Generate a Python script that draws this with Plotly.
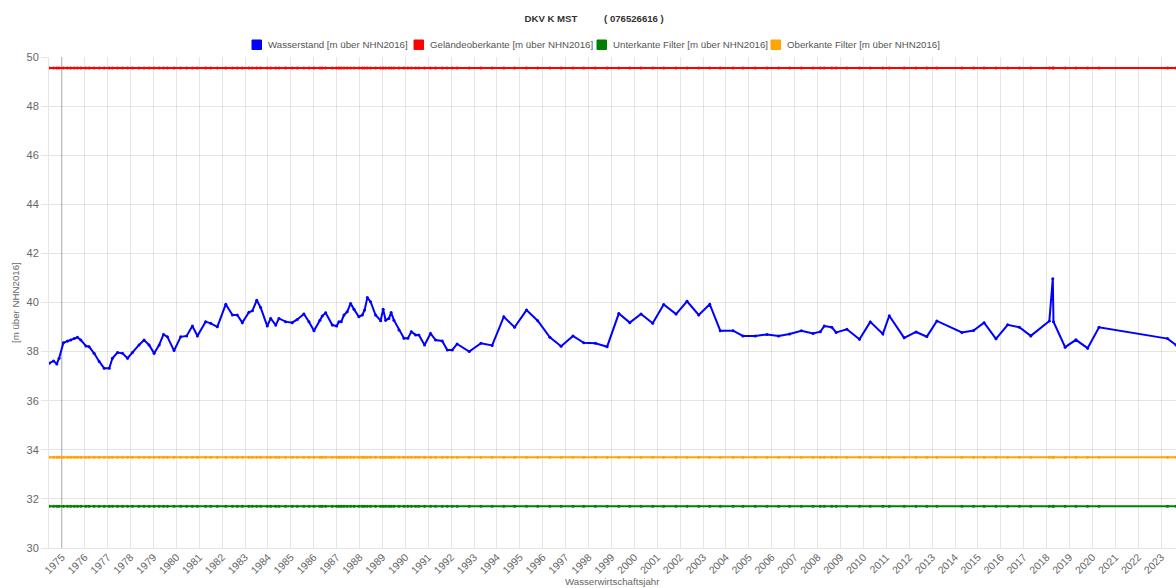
import plotly.graph_objects as go

# ---------------- data ----------------
title_text = "DKV K MST" + "\u00a0" * 10 + "( 076526616 )"
series_names = [
    "Wasserstand [m über NHN2016]",
    "Geländeoberkante [m über NHN2016]",
    "Unterkante Filter [m über NHN2016]",
    "Oberkante Filter [m über NHN2016]",
]
series_colors = ["#0000FF", "#FF0000", "#008000", "#FFA500"]

# measurement dates as decimal years
dates = [
    1974.45, 1974.64, 1974.78, 1974.88, 1975.07, 1975.25, 1975.39, 1975.54, 1975.68, 1975.83,
    1976.05, 1976.19, 1976.41, 1976.63, 1976.85, 1977.07, 1977.21, 1977.43, 1977.65, 1977.87,
    1978.08, 1978.37, 1978.59, 1978.81, 1979.03, 1979.25, 1979.44, 1979.61, 1979.90, 1980.19,
    1980.45, 1980.70, 1980.92, 1981.28, 1981.50, 1981.79, 1982.16, 1982.45, 1982.66, 1982.88,
    1983.17, 1983.32, 1983.51, 1983.68, 1983.97, 1984.12, 1984.34, 1984.48, 1984.77, 1985.06,
    1985.28, 1985.57, 1985.79, 1986.01, 1986.27,
    1986.37, 1986.52, 1986.81, 1987.00, 1987.10, 1987.20, 1987.32, 1987.46, 1987.61, 1987.76,
    1987.97, 1988.12, 1988.22, 1988.34, 1988.48, 1988.70, 1988.92, 1989.03, 1989.14, 1989.28,
    1989.38, 1989.50, 1989.72, 1989.94, 1990.11, 1990.26, 1990.45, 1990.59, 1990.84, 1991.10,
    1991.32, 1991.61, 1991.83, 1992.05, 1992.26,
    1992.79, 1993.30, 1993.79, 1994.30, 1994.77, 1995.29, 1995.78, 1996.31, 1996.80, 1997.32,
    1997.79, 1998.30, 1998.81, 1999.32, 1999.80, 2000.29, 2000.80, 2001.28, 2001.82, 2002.30,
    2002.81, 2003.29, 2003.75, 2004.31, 2004.74, 2005.28, 2005.79, 2006.30, 2006.78, 2007.29,
    2007.80, 2008.12, 2008.29, 2008.62, 2008.81, 2009.28, 2009.83, 2010.30, 2010.85, 2011.13,
    2011.78, 2012.30, 2012.77, 2013.21, 2014.30, 2014.81, 2015.27, 2015.79, 2016.30, 2016.81,
    2017.31, 2018.12, 2018.27, 2018.30, 2018.81, 2019.28, 2019.79, 2020.29, 2023.28, 2023.65,
]

wasserstand = [
    37.53, 37.62, 37.50, 37.73, 38.36, 38.43, 38.47, 38.53, 38.58, 38.47,
    38.23, 38.20, 37.93, 37.60, 37.32, 37.32, 37.73, 37.96, 37.93, 37.73,
    37.96, 38.27, 38.47, 38.27, 37.93, 38.27, 38.70, 38.60, 38.04, 38.60,
    38.64, 39.04, 38.64, 39.22, 39.15, 39.01, 39.93, 39.49, 39.49, 39.18,
    39.60, 39.66, 40.09, 39.80, 39.04, 39.35, 39.08, 39.35, 39.22, 39.18,
    39.31, 39.53, 39.22, 38.85, 39.28,
    39.45, 39.58, 39.08, 39.04, 39.22, 39.22, 39.49, 39.62, 39.96, 39.72,
    39.42, 39.49, 39.69, 40.20, 40.03, 39.49, 39.26, 39.72, 39.28, 39.35,
    39.59, 39.28, 38.88, 38.54, 38.54, 38.81, 38.68, 38.68, 38.27, 38.74,
    38.47, 38.43, 38.07, 38.07, 38.31,
    38.00, 38.34, 38.25, 39.42, 38.99, 39.69, 39.26, 38.58, 38.22, 38.64,
    38.36, 38.34, 38.20, 39.55, 39.18, 39.53, 39.15, 39.92, 39.53, 40.05,
    39.49, 39.93, 38.85, 38.85, 38.64, 38.64, 38.70, 38.64, 38.72, 38.85,
    38.74, 38.81, 39.04, 38.99, 38.78, 38.91, 38.50, 39.21, 38.72, 39.46,
    38.56, 38.80, 38.61, 39.25, 38.78, 38.86, 39.18, 38.52, 39.09, 38.99,
    38.64, 39.25, 40.97, 39.22, 38.18, 38.48, 38.14, 38.99, 38.53, 38.27,
]

gelaendeoberkante_value = 49.55
unterkante_value = 31.70
oberkante_value = 33.70

year_ticks = list(range(1975, 2024))
year_labels = [str(y) for y in year_ticks]
y_ticks = list(range(30, 51, 2))

# --------------- figure ---------------
W, H = 1176, 588
ML, MR, MT, MB = 49, 0, 57, 40
PW, PH = W - ML - MR, H - MT - MB


def px_x(px):
    return (px - ML) / PW


def px_y(py):
    return (H - MB - py) / PH


n = len(dates)
series_values = [
    wasserstand,
    [gelaendeoberkante_value] * n,
    [unterkante_value] * n,
    [oberkante_value] * n,
]

fig = go.Figure()
for name, color, vals in zip(series_names, series_colors, series_values):
    fig.add_trace(go.Scatter(
        x=dates, y=vals, name=name, mode="lines+markers",
        line=dict(color=color, width=2),
        marker=dict(color=color, size=3),
        showlegend=False,
    ))

FONT = "Liberation Sans, Arial, Helvetica, sans-serif"
grid = "rgba(0,0,0,0.1)"

fig.update_layout(
    width=W, height=H,
    margin=dict(l=ML, r=MR, t=MT, b=MB, pad=0, autoexpand=False),
    paper_bgcolor="white", plot_bgcolor="white",
    font=dict(family=FONT, color="#666", size=11),
    title=dict(text="<b>" + title_text + "</b>", x=594.2 / W, xanchor="center",
               xref="container", y=1 - 18.5 / H, yanchor="middle",
               font=dict(size=9.6, color="#333", family=FONT)),
    xaxis=dict(
        range=[1974.44, 2023.65], tickmode="array", tickvals=year_ticks, ticktext=year_labels,
        tickangle=-45, showgrid=True, gridcolor=grid, gridwidth=1, zeroline=False,
        showline=True, linecolor=grid, ticks="", tickfont=dict(size=10.5, color="#666"),
        automargin=False, ticklabelstandoff=-2,
    ),
    yaxis=dict(
        range=[30, 50], tickmode="array", tickvals=y_ticks, showgrid=True, gridcolor=grid,
        zeroline=False, showline=True, linecolor=grid, ticks="outside", ticklen=7,
        tickcolor=grid, tickfont=dict(size=11, color="#666"), automargin=False,
    ),
    showlegend=False,
)

shapes = []
annotations = []
# Chart.js style darker first grid line
shapes.append(dict(type="line", xref="x", yref="paper", x0=year_ticks[0], x1=year_ticks[0],
                   y0=0, y1=1, line=dict(color="rgba(0,0,0,0.25)", width=1), layer="below"))

# manual legend (square boxes like Chart.js)
legend_box_left = [252, 414, 597, 771]
for name, color, bx in zip(series_names, series_colors, legend_box_left):
    shapes.append(dict(type="rect", xref="paper", yref="paper",
                       x0=px_x(bx), x1=px_x(bx + 9.5), y0=px_y(49.5), y1=px_y(40),
                       fillcolor=color, line=dict(color=color, width=1)))
    annotations.append(dict(text=name, xref="paper", yref="paper", x=px_x(bx + 13.5),
                            y=px_y(44.8), xanchor="left", yanchor="middle", showarrow=False,
                            font=dict(size=9.7, color="#555", family=FONT)))

# axis titles
annotations.append(dict(text="Wasserwirtschaftsjahr", xref="paper", yref="paper",
                        x=px_x(612.5), y=px_y(581), xanchor="center", yanchor="middle",
                        showarrow=False, font=dict(size=9.7, color="#666", family=FONT)))
annotations.append(dict(text="[m über NHN2016]", xref="paper", yref="paper",
                        x=px_x(15.5), y=px_y(302.5), xanchor="center", yanchor="middle",
                        textangle=-90, showarrow=False,
                        font=dict(size=9.7, color="#666", family=FONT)))

fig.update_layout(shapes=shapes, annotations=annotations)
fig.write_html(
    "out.html",
    config={"displayModeBar": False},
    post_script="document.body.style.margin='0';document.body.style.overflow='hidden';",
)
